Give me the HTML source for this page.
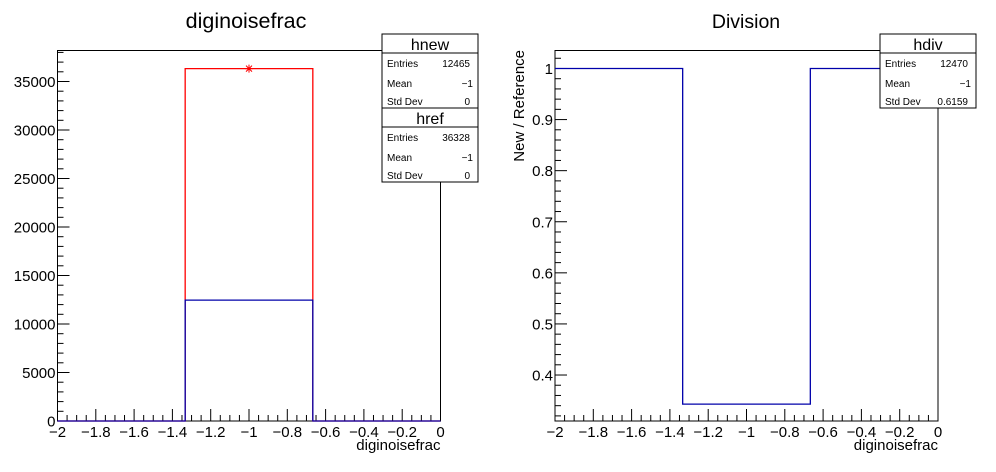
<!DOCTYPE html>
<html><head><meta charset="utf-8"><style>
body{margin:0;background:#fff}
svg{display:block;font-family:"Liberation Sans",Arial,sans-serif}
</style></head><body>
<svg id="c" width="996" height="472" viewBox="0 0 996 472">
<text x="246" y="28" font-size="21.5" text-anchor="middle">diginoisefrac</text>
<text x="746" y="28" font-size="19.5" text-anchor="middle">Division</text>
<g id="L"></g>
<g id="R"></g>
</svg>
<script>
const binEdges=[-2,-1.3333,-0.6667,0];
const hrefValues=[0,36328,0];
const hnewValues=[0,12465,0];
const ratioValues=[1,0.343,1];
const leftYTicks=[0,5000,10000,15000,20000,25000,30000,35000];
const rightYTicks=[0.4,0.5,0.6,0.7,0.8,0.9,1];
const xTicks=[-2,-1.8,-1.6,-1.4,-1.2,-1,-0.8,-0.6,-0.4,-0.2,0];
const NS="http://www.w3.org/2000/svg";
function mk(p,t,a){const e=document.createElementNS(NS,t);for(const k in a)e.setAttribute(k,a[k]);p.appendChild(e);return e;}
function fmt(v){return (v<0?"\u2212":"")+String(Math.abs(Math.round(v*100)/100));}
function plot(g,x0,x1,y0,y1,ymin,ymax,yTicks,yMinorStep,yFmt){
  const sx=v=>x0+(v+2)/2*(x1-x0), sy=v=>y1-(v-ymin)/(ymax-ymin)*(y1-y0);
  let f=mk(g,"rect",{x:x0,y:y0,width:x1-x0,height:y1-y0,fill:"none",stroke:"#000","stroke-width":1});
  
  
  for(let v=-2;v<=0.0001;v+=0.05){const maj=Math.abs(v*5-Math.round(v*5))<1e-6;
    mk(g,"line",{x1:sx(v),x2:sx(v),y1:y1,y2:y1-(maj?12:6),stroke:"#000"});}
  xTicks.forEach(v=>{const t=mk(g,"text",{x:sx(v),y:y1+16,"font-size":15,"text-anchor":"middle"});t.textContent=fmt(v);
    
    });
  const s=Math.ceil(ymin/yMinorStep-1e-6);
  for(let i=s;i*yMinorStep<=ymax;i++){const v=i*yMinorStep;const maj=yTicks.some(t=>Math.abs(t-v)<yMinorStep/10);
    mk(g,"line",{x1:x0,x2:x0+(maj?12:6),y1:sy(v),y2:sy(v),stroke:"#000"});}
  yTicks.forEach(v=>{const t=mk(g,"text",{x:x0-2,y:sy(v)+5.5,"font-size":15,"text-anchor":"end"});t.textContent=yFmt(v);
    
    });
  const xt=mk(g,"text",{x:x1,y:y1+29,"font-size":15,"text-anchor":"end"});xt.textContent="diginoisefrac";
  
  
  return {sx,sy};
}
function hist(g,ax,vals,color,name){
  let d="M"+ax.sx(binEdges[0])+","+ax.sy(vals[0]);
  for(let i=0;i<vals.length;i++){d+=" L"+ax.sx(binEdges[i])+","+ax.sy(vals[i])+" L"+ax.sx(binEdges[i+1])+","+ax.sy(vals[i]);}
  const p=mk(g,"path",{d:d,fill:"none",stroke:color,"stroke-width":1.3});
  
  
}
function stat(g,x,y,title,rows,name){
  const b=mk(g,"g",{});
  
  
  mk(b,"rect",{x:x,y:y,width:96,height:74,fill:"#fff",stroke:"#000"});
  mk(b,"line",{x1:x,x2:x+96,y1:y+19,y2:y+19,stroke:"#000"});
  const t=mk(b,"text",{x:x+48,y:y+16,"font-size":16,"text-anchor":"middle"});t.textContent=title;
  const ys=[y+33,y+53,y+71];
  rows.forEach((r,i)=>{const yy=ys[i];
    const a=mk(b,"text",{x:x+5,y:yy,"font-size":10});a.textContent=r[0];
    const c=mk(b,"text",{x:x+i==1?x+91:x+88,y:yy,"font-size":10,"text-anchor":"end"});c.setAttribute("x",i==1?x+91:x+88);c.textContent=r[1];});
}
const L=document.getElementById("L"),R=document.getElementById("R");
const a1=plot(L,57.5,440.5,50.5,421,0,38196,leftYTicks,1000,v=>String(v));
hist(L,a1,hrefValues,"#f00","href-histogram");
hist(L,a1,hnewValues,"#00a","hnew-histogram");
const mx=a1.sx(-1),my=a1.sy(hrefValues[1]);
const st=mk(L,"path",{d:`M${mx-4},${my}H${mx+4}M${mx},${my-4}V${my+4}M${mx-3},${my-3}L${mx+3},${my+3}M${mx-3},${my+3}L${mx+3},${my-3}`,stroke:"#f00"});


stat(L,382,34,"hnew",[["Entries","12465"],["Mean","\u22121"],["Std Dev","0"]],"hnew-stats-box");
stat(L,382,108,"href",[["Entries","36328"],["Mean","\u22121"],["Std Dev","0"]],"href-stats-box");
const a2=plot(R,555,938,50.5,421,0.31,1.0352,rightYTicks,0.02,v=>String(v));
hist(R,a2,ratioValues,"#00a","ratio-histogram");
const yt=mk(R,"text",{x:0,y:0,"font-size":15,"text-anchor":"end",transform:"translate(524,50) rotate(-90)"});yt.textContent="New / Reference";


stat(R,880,34,"hdiv",[["Entries","12470"],["Mean","\u22121"],["Std Dev","0.6159"]],"hdiv-stats-box");
</script>
</body></html>
